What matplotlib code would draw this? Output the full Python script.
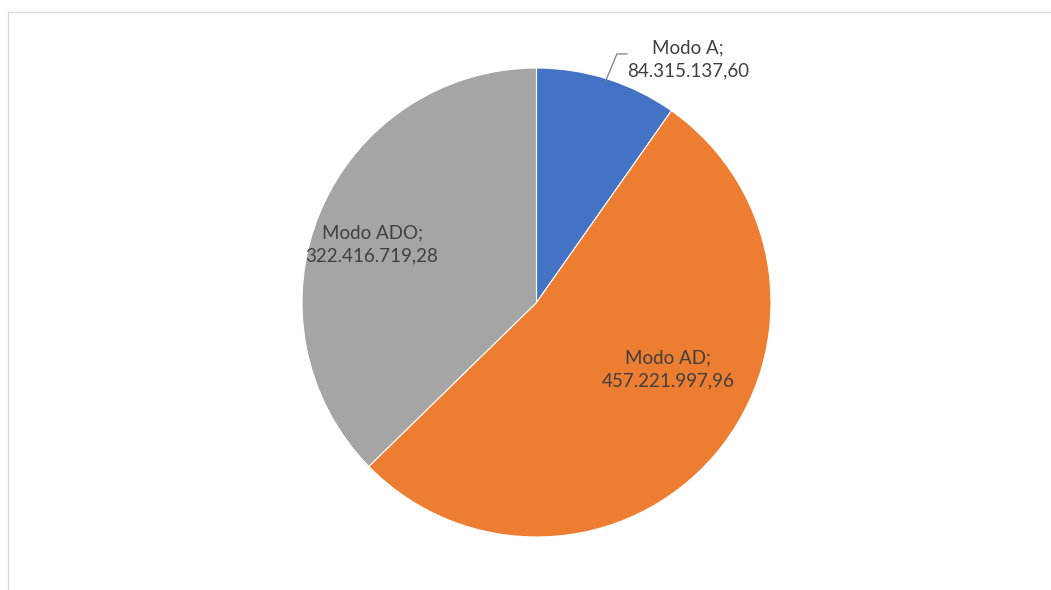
import matplotlib.pyplot as plt
from matplotlib.lines import Line2D

# data
modos = ["Modo A", "Modo AD", "Modo ADO"]
valores = [84315137.60, 457221997.96, 322416719.28]
etiquetas = ["84.315.137,60", "457.221.997,96", "322.416.719,28"]
cores = ["#4472C4", "#ED7D31", "#A5A5A5"]

plt.rcParams['font.family'] = ['Lato', 'DejaVu Sans']

fig = plt.figure(figsize=(10.51, 5.90), dpi=100)

# pie centre (536.5, 302.5) px, radius 234.5 px
cx, cy, r = 536.5, 590 - 302.5, 234.5
ax = fig.add_axes([(cx - r) / 1051, (cy - r) / 590, 2 * r / 1051, 2 * r / 590])
ax.pie(valores, colors=cores, startangle=90, counterclock=False, radius=1,
       wedgeprops={'edgecolor': 'white', 'linewidth': 0.8})
ax.set_xlim(-1, 1)
ax.set_ylim(-1, 1)
ax.set_aspect('equal')
ax.axis('off')

# labels
pos = [(0.646, 1.038), (0.561, -0.284), (-0.701, 0.249)]
for nome, txt, (x, y) in zip(modos, etiquetas, pos):
    ax.text(x, y, f"{nome};\n{txt}", ha='center', va='center', fontsize=13.5,
            color='#404040', linespacing=1.45, clip_on=False)

# leader line for Modo A
ax.plot([0.295, 0.343, 0.386], [0.945, 1.060, 1.060], color='#7f7f7f',
        linewidth=0.9, clip_on=False)

# chart area border (top and left visible)
fig.add_artist(Line2D([7.5 / 1051, 1], [1 - 11.5 / 590, 1 - 11.5 / 590],
                      transform=fig.transFigure, color='#d9d9d9', linewidth=1))
fig.add_artist(Line2D([7.5 / 1051, 7.5 / 1051], [0, 1 - 11.5 / 590],
                      transform=fig.transFigure, color='#d9d9d9', linewidth=1))

fig.savefig("out.png", dpi=100)
